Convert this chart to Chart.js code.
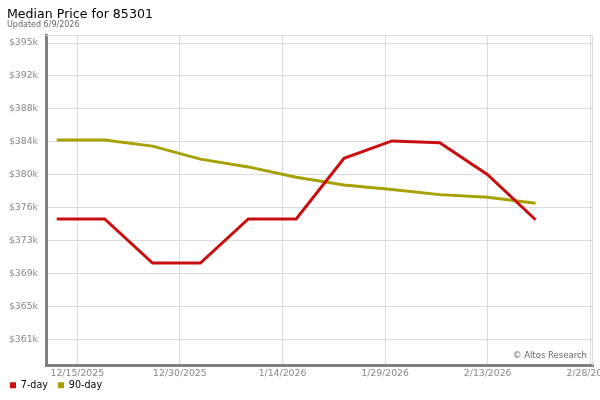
<!DOCTYPE html>
<html>
<head>
<meta charset="utf-8">
<script src="https://cdn.jsdelivr.net/npm/chart.js@4.4.1/dist/chart.umd.min.js"></script>
<style>
  html, body { margin: 0; padding: 0; background: #fff; }
  #wrap { width: 600px; height: 400px; position: relative; }
</style>
</head>
<body>
<div id="wrap"><canvas id="myChart"></canvas></div>
<script>
// weekly points (dates) and the two series, in $k
var dates = ['2025-12-12', '2025-12-19', '2025-12-26', '2026-01-02', '2026-01-09', '2026-01-16',
             '2026-01-23', '2026-01-30', '2026-02-06', '2026-02-13', '2026-02-20'];
var sevenDay = [375.1, 375.1, 370.0, 370.0, 375.1, 375.1, 382.1, 384.1, 383.9, 380.2, 375.0];
var ninetyDay = [384.2, 384.2, 383.5, 382.0, 381.1, 379.9, 379.0, 378.5, 377.9, 377.6, 376.9];

// axis ticks
var xTickDates = ['2025-12-15', '2025-12-30', '2026-01-14', '2026-01-29', '2026-02-13', '2026-02-28'];
var xTickLabels = ['12/15/2025', '12/30/2025', '1/14/2026', '1/29/2026', '2/13/2026', '2/28/2026'];
var yTicks = [361.2, 365.0, 368.8, 372.6, 376.4, 380.2, 384.0, 387.8, 391.6, 395.4];
var yTickLabels = ['$361k', '$365k', '$369k', '$373k', '$376k', '$380k', '$384k', '$388k', '$392k', '$395k'];

var titleText = 'Median Price for 85301';
var subtitleText = 'Updated 6/9/2026';
var creditText = '\u00a9 Altos Research';

var FONT = "'DejaVu Sans', sans-serif";
var base = Date.UTC(2025, 11, 15);
function dayOf(s) {
  var p = s.split('-');
  return (Date.UTC(+p[0], +p[1] - 1, +p[2]) - base) / 86400000;
}
function toPoints(vals) {
  var out = [];
  for (var i = 0; i < vals.length; i++) {
    out.push({ x: dayOf(dates[i]), y: vals[i] });
  }
  return out;
}

var red = 'rgb(200, 14, 14)';
var olive = 'rgb(166, 160, 0)';

// title, subtitle, frame and credit
var extras = {
  id: 'extras',
  beforeDatasetsDraw: function(chart) {
    var a = chart.chartArea, c = chart.ctx;
    c.save();
    c.strokeStyle = '#dcdcdc';
    c.lineWidth = 1;
    c.beginPath();
    c.moveTo(a.left, a.top + 0.5);
    c.lineTo(a.right - 0.5, a.top + 0.5);
    c.lineTo(a.right - 0.5, a.bottom);
    c.stroke();
    c.restore();
  },
  afterDraw: function(chart) {
    var a = chart.chartArea, c = chart.ctx;
    c.save();
    c.fillStyle = '#000';
    c.textBaseline = 'alphabetic';
    c.textAlign = 'left';
    c.font = '12.6px ' + FONT;
    c.fillText(titleText, 7, 18);
    c.fillStyle = '#666';
    c.font = '8px ' + FONT;
    c.fillText(subtitleText, 7, 27);
    c.textAlign = 'right';
    c.textBaseline = 'middle';
    c.font = '8.5px ' + FONT;
    c.fillText(creditText, a.right - 6, a.bottom - 10);
    c.restore();
  }
};

var ctx = document.getElementById('myChart').getContext('2d');
var myChart = new Chart(ctx, {
  type: 'line',
  data: {
    datasets: [{
      label: '7-day',
      data: toPoints(sevenDay),
      borderColor: red,
      backgroundColor: red,
      borderWidth: 3,
      pointRadius: 0,
      tension: 0,
      fill: false
    }, {
      label: '90-day',
      data: toPoints(ninetyDay),
      borderColor: olive,
      backgroundColor: olive,
      borderWidth: 3,
      pointRadius: 0,
      tension: 0,
      fill: false
    }]
  },
  options: {
    responsive: true,
    maintainAspectRatio: false,
    animation: false,
    layout: { padding: { top: 35, right: 7, left: 0, bottom: 0 } },
    plugins: {
      title: { display: false },
      tooltip: { enabled: false },
      legend: {
        position: 'bottom',
        align: 'start',
        labels: {
          boxWidth: 6,
          boxHeight: 6,
          padding: 10,
          color: '#000',
          font: { family: FONT, size: 9.6 },
          generateLabels: function(chart) {
            var items = Chart.defaults.plugins.legend.labels.generateLabels(chart);
            items.forEach(function(it) { it.lineWidth = 0; it.fillStyle = it.strokeStyle; });
            return items;
          }
        }
      }
    },
    scales: {
      x: {
        type: 'linear',
        min: -4.576,
        max: 75.4,
        afterBuildTicks: function(scale) {
          scale.ticks = xTickDates.map(function(d) { return { value: dayOf(d) }; });
        },
        afterFit: function(scale) {
          scale.paddingLeft = 0;
          scale.paddingRight = 0;
          scale.height = 5;
          // the axis box is thin, let its labels run below it (no clip)
          scale._computeLabelArea = function() { return null; };
        },
        ticks: {
          autoSkip: false,
          maxRotation: 0,
          padding: 3,
          color: '#888',
          font: { family: FONT, size: 9.3 },
          callback: function(v, i) { return xTickLabels[i]; }
        },
        grid: { color: '#dcdcdc', lineWidth: 1, drawTicks: false },
        border: { color: '#808080', width: 3 }
      },
      y: {
        type: 'linear',
        min: 358.186,
        max: 396.327,
        afterBuildTicks: function(scale) {
          scale.ticks = yTicks.map(function(v) { return { value: v }; });
        },
        afterFit: function(scale) {
          scale.width = 46;
        },
        ticks: {
          padding: 8,
          color: '#888',
          font: { family: FONT, size: 9.3 },
          callback: function(v, i) { return yTickLabels[i]; }
        },
        grid: { color: '#dcdcdc', lineWidth: 1, drawTicks: false },
        border: { color: '#808080', width: 3 }
      }
    }
  },
  plugins: [extras]
});
</script>
</body>
</html>
